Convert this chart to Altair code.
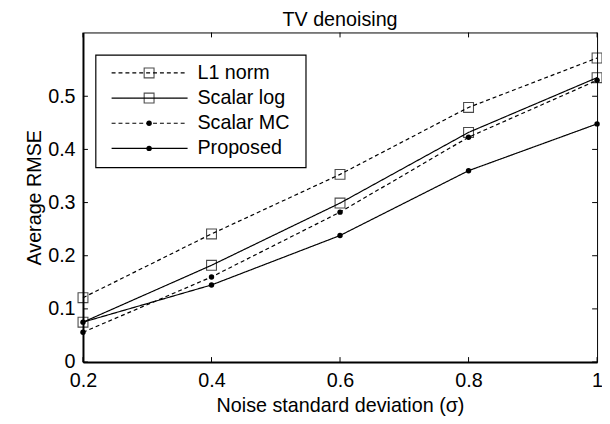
import altair as alt
import pandas as pd

series = ["L1 norm", "Scalar log", "Scalar MC", "Proposed"]
sigma = [0.2, 0.4, 0.6, 0.8, 1.0]
l1_norm = [0.121, 0.241, 0.353, 0.479, 0.572]
scalar_log = [0.075, 0.182, 0.299, 0.432, 0.535]
scalar_mc = [0.056, 0.160, 0.282, 0.423, 0.530]
proposed = [0.075, 0.145, 0.238, 0.360, 0.448]
x_ticks = [0.2, 0.4, 0.6, 0.8, 1.0]
y_ticks = [0.0, 0.1, 0.2, 0.3, 0.4, 0.5]

values = [l1_norm, scalar_log, scalar_mc, proposed]
dashes = {"L1 norm": [4, 3], "Scalar log": [1, 0], "Scalar MC": [4, 3], "Proposed": [1, 0]}
shapes = {"L1 norm": "square", "Scalar log": "square", "Scalar MC": "circle", "Proposed": "circle"}

rows = []
for name, vals in zip(series, values):
    for s, v in zip(sigma, vals):
        rows.append({"series": name, "sigma": s, "rmse": v})
df = pd.DataFrame(rows)

W, H = 521, 334
FONT = "Liberation Sans"
FS = 20

xs = alt.Scale(domain=[0.2, 1.0], nice=False, zero=False)
ys = alt.Scale(domain=[0, 0.62], nice=False)

common = dict(ticks=False, tickSize=0, grid=False, labelFontSize=FS, titleFontSize=FS,
              labelColor="black", titleColor="black", domainColor="black", domainWidth=2,
              labelFont=FONT, titleFont=FONT, titleFontWeight="normal", labelFlush=False,
              format=".1~f")
xax = alt.Axis(values=x_ticks, labelPadding=9, titlePadding=5, **common)
yax = alt.Axis(values=y_ticks, labelPadding=8, titlePadding=3, **common)

SQ_SIZE = 100
DOT_SIZE = 30

layers = []
for name in series:
    sub = df[df.series == name]
    base = alt.Chart(sub)
    line = base.mark_line(color="black", strokeWidth=1.2, strokeDash=dashes[name]).encode(
        x=alt.X("sigma:Q", scale=xs, axis=xax, title="Noise standard deviation (σ)"),
        y=alt.Y("rmse:Q", scale=ys, axis=yax, title="Average RMSE"),
    )
    if shapes[name] == "square":
        pts = base.mark_point(shape="square", filled=False, color="black", size=SQ_SIZE,
                              strokeWidth=1.1, clip=False).encode(x="sigma:Q", y="rmse:Q")
    else:
        pts = base.mark_point(shape="circle", filled=True, color="black", size=DOT_SIZE,
                              opacity=1, clip=False).encode(x="sigma:Q", y="rmse:Q")
    layers += [line, pts]

# inward ticks on all four sides
xt = pd.DataFrame({"t": x_ticks})
yt = pd.DataFrame({"t": y_ticks})
tick_layers = [
    alt.Chart(xt).mark_rule(color="black", strokeWidth=1).encode(
        x=alt.X("t:Q", scale=xs), y=alt.value(H), y2=alt.value(H - 5)),
    alt.Chart(xt).mark_rule(color="black", strokeWidth=1).encode(
        x=alt.X("t:Q", scale=xs), y=alt.value(0), y2=alt.value(5)),
    alt.Chart(yt).mark_rule(color="black", strokeWidth=1).encode(
        y=alt.Y("t:Q", scale=ys), x=alt.value(0), x2=alt.value(5)),
    alt.Chart(yt).mark_rule(color="black", strokeWidth=1).encode(
        y=alt.Y("t:Q", scale=ys), x=alt.value(W), x2=alt.value(W - 5)),
]

# legend
dummy = pd.DataFrame({"a": [0]})
legend_layers = [
    alt.Chart(dummy).mark_rect(fill="white", stroke="black", strokeWidth=1.2).encode(
        x=alt.value(13), x2=alt.value(226), y=alt.value(23), y2=alt.value(137))
]
for i, name in enumerate(series):
    yy = 41 + i * 25.5
    ld = pd.DataFrame({"series": [name]})
    legend_layers.append(alt.Chart(ld).mark_rule(color="black", strokeWidth=1.2,
                                                 strokeDash=dashes[name]).encode(
        x=alt.value(29), x2=alt.value(106), y=alt.value(yy)))
    if shapes[name] == "square":
        legend_layers.append(alt.Chart(ld).mark_point(shape="square", filled=False, color="black",
                                                      size=SQ_SIZE, strokeWidth=1.1).encode(
            x=alt.value(67), y=alt.value(yy)))
    else:
        legend_layers.append(alt.Chart(ld).mark_point(shape="circle", filled=True, color="black",
                                                      size=DOT_SIZE, opacity=1).encode(
            x=alt.value(67), y=alt.value(yy)))
    legend_layers.append(alt.Chart(ld).mark_text(align="left", baseline="middle", fontSize=FS,
                                                 font=FONT, color="black").encode(
        x=alt.value(116), y=alt.value(yy), text="series:N"))

chart = alt.layer(*layers, *tick_layers, *legend_layers).properties(
    width=W, height=H,
    title=alt.TitleParams("TV denoising", fontSize=FS, fontWeight="normal", font=FONT,
                          color="black", offset=2),
    padding={"left": 76, "top": 22, "right": 5, "bottom": 60},
    autosize=alt.AutoSizeParams(type="none"),
).configure_view(stroke="black", strokeWidth=1)

chart.save("out.html", embed_options={"renderer": "svg", "actions": False})
